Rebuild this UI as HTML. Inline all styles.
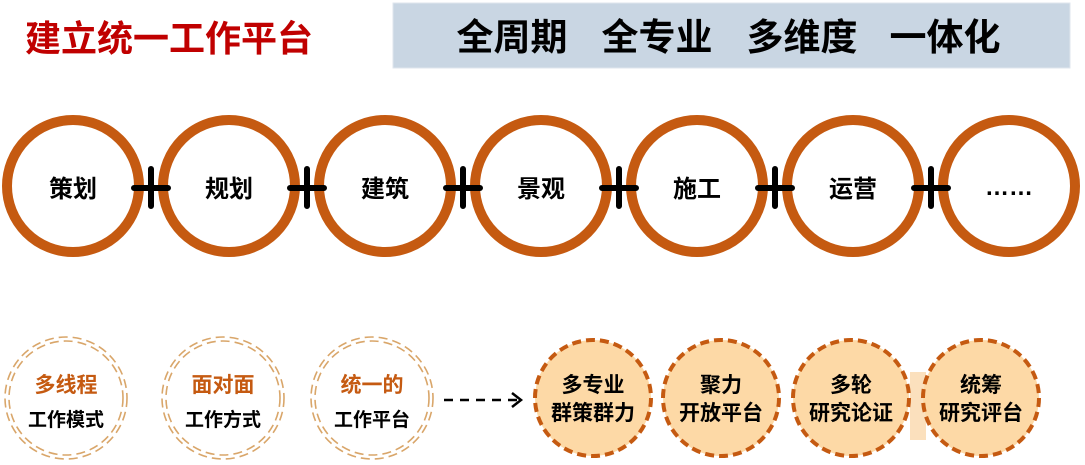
<!DOCTYPE html>
<html><head><meta charset="utf-8"><style>
html,body{margin:0;padding:0;background:#fff;}
svg{display:block;}
text{font-family:"Liberation Sans","Noto Sans CJK SC",sans-serif;font-weight:bold;}
</style></head><body>
<svg width="1085" height="465" viewBox="0 0 1085 465" xmlns="http://www.w3.org/2000/svg">
<text x="25" y="51" font-size="36" fill="#c00000">建立统一工作平台</text>
<rect x="393" y="3" width="677" height="65" fill="#c9d6e3" stroke="#dfe6ee" stroke-width="1"/>
<g font-size="37" fill="#000" text-anchor="middle">
<text x="512" y="50">全周期</text><text x="657" y="50">全专业</text><text x="802" y="50">多维度</text><text x="945" y="50">一体化</text>
</g>
<g fill="none" stroke="#c55a11" stroke-width="10">
<circle cx="73" cy="186" r="66"/><circle cx="229" cy="186" r="66"/><circle cx="385" cy="186" r="66"/><circle cx="541" cy="186" r="66"/><circle cx="697" cy="186" r="66"/><circle cx="853" cy="186" r="66"/><circle cx="1009" cy="186" r="66"/>
</g>
<g stroke="#000" stroke-width="6" stroke-linecap="round">
<path d="M134 188H168M151 169V206"/><path d="M290 188H324M307 169V206"/><path d="M446 188H480M463 169V206"/><path d="M602 188H636M619 169V206"/><path d="M758 188H792M775 169V206"/><path d="M914 188H948M931 169V206"/>
</g>
<g font-size="24" fill="#000" text-anchor="middle">
<text x="73" y="197">策划</text><text x="229" y="197">规划</text><text x="385" y="197">建筑</text><text x="541" y="197">景观</text><text x="697" y="197">施工</text><text x="853" y="197">运营</text><text x="1009" y="195">……</text>
</g>
<g fill="none" stroke="#d9a66a" stroke-width="1.6" stroke-dasharray="9 5">
<circle cx="66" cy="398" r="61"/><circle cx="66" cy="398" r="57"/>
<circle cx="223" cy="398" r="61"/><circle cx="223" cy="398" r="57"/>
<circle cx="372" cy="398" r="61"/><circle cx="372" cy="398" r="57"/>
</g>
<g font-size="21" text-anchor="middle">
<text x="66" y="392" fill="#c55a11">多线程</text><text x="66" y="426" fill="#000" font-size="19">工作模式</text>
<text x="223" y="392" fill="#c55a11">面对面</text><text x="223" y="426" fill="#000" font-size="19">工作方式</text>
<text x="372" y="392" fill="#c55a11">统一的</text><text x="372" y="426" fill="#000" font-size="19">工作平台</text>
</g>
<path d="M444 400H520" stroke="#000" stroke-width="2.5" stroke-dasharray="9 7"/>
<path d="M512 393L521 400L512 407" fill="none" stroke="#000" stroke-width="2.5"/>
<rect x="910" y="372" width="16" height="68" fill="#fbe0bd"/>
<g fill="#fdd9a6" stroke="#c55a11" stroke-width="4" stroke-dasharray="9 5">
<circle cx="593" cy="398" r="58"/><circle cx="721" cy="398" r="58"/><circle cx="851" cy="398" r="58"/><circle cx="981" cy="398" r="58"/>
</g>
<g font-size="21" fill="#000" text-anchor="middle">
<text x="593" y="392">多专业</text><text x="593" y="420">群策群力</text>
<text x="721" y="392">聚力</text><text x="721" y="420">开放平台</text>
<text x="851" y="392">多轮</text><text x="851" y="420">研究论证</text>
<text x="981" y="392">统筹</text><text x="981" y="420">研究评台</text>
</g>
</svg>
</body></html>
